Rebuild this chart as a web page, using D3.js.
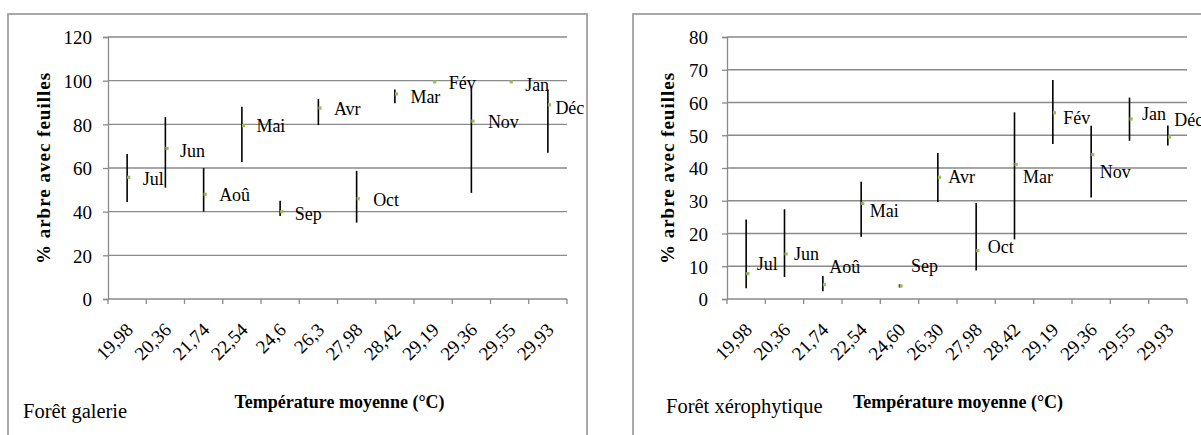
<!DOCTYPE html>
<html><head><meta charset="utf-8">
<script src="https://cdn.jsdelivr.net/npm/d3@7"></script>
<style>
html,body{margin:0;padding:0;background:#fff;}
svg{display:block;font-family:"Liberation Serif","Times New Roman",serif;}
</style></head>
<body>
<svg id="chart" width="1201" height="435"></svg>
<script>
// ---- data ----
const months = ["Jul","Jun","Aoû","Mai","Sep","Avr","Oct","Mar","Fév","Nov","Jan","Déc"];
const tempsGalerie = ["19,98","20,36","21,74","22,54","24,6","26,3","27,98","28,42","29,19","29,36","29,55","29,93"];
const tempsXero = ["19,98","20,36","21,74","22,54","24,60","26,30","27,98","28,42","29,19","29,36","29,55","29,93"];
const galerieValues = [55.8, 69, 48, 79.5, 40, 87.5, 46, 94, 99.5, 81.5, 99.5, 89];
const galerieLow    = [44.4, 51, 40, 62.7, 38, 79.7, 35, 89.7, 99.5, 48.6, 99.5, 67];
const galerieHigh   = [66.4, 83.3, 60, 88, 45, 91.6, 58.7, 96, 99.5, 97, 99.5, 96];
const xeroValues = [7.8, 13.8, 4.4, 29.2, 4.0, 37.2, 14.8, 41.1, 56.9, 44.1, 55, 49.5];
const xeroLow    = [3.3, 6.7, 2.4, 19, 3.5, 29.6, 8.7, 18.2, 47.3, 31, 48.3, 46.9];
const xeroHigh   = [24.3, 27.4, 7, 35.8, 4.5, 44.6, 29.3, 57, 66.9, 52.9, 61.5, 53];
const galerieTicks = [0,20,40,60,80,100,120];
const xeroTicks = [0,10,20,30,40,50,60,70,80];

// ---- label placement (style, not data) ----
const galerieLabelOffsets = [[14,2],[13,2],[14,0],[13,0],[13,2],[14,1],[15,1],[14,3],[14,1],[15,1],[14,3],[6,3]];
const xeroLabelOffsets = [[9,-10],[8,0],[5,-18],[7,7],[10,-20],[9,0],[10,-4],[7,12],[9,5],[7,17],[11,-5],[5,-17]];

const svg = d3.select("#chart");
const GRID = "#8a8a8a";

function panel(cfg){
  const g = svg.append("g");
  // frame
  g.append("rect").attr("x",cfg.frame[0]).attr("y",14).attr("width",cfg.frame[1]-cfg.frame[0]).attr("height",440)
    .attr("fill","none").attr("stroke","#a0a0a0").attr("stroke-width",1.8);
  const x = d3.scaleBand().domain(d3.range(months.length)).range([cfg.x0,cfg.x1]).padding(0);
  const y = d3.scaleLinear().domain([0,cfg.ticks[cfg.ticks.length-1]]).range([299,37]);
  // gridlines
  g.append("g").selectAll("line").data(cfg.ticks.filter(t=>t>0)).join("line")
    .attr("x1",cfg.x0).attr("x2",cfg.x1).attr("y1",d=>y(d)).attr("y2",d=>y(d))
    .attr("stroke",GRID).attr("stroke-width",1.3);
  // y axis
  const ya = g.append("g").attr("transform",`translate(${cfg.x0},0)`)
    .call(d3.axisLeft(y).tickValues(cfg.ticks).tickSize(5).tickPadding(cfg.tickPad).tickFormat(d3.format("d")));
  ya.select(".domain").attr("stroke",GRID).attr("stroke-width",1.3);
  ya.selectAll(".tick line").attr("stroke",GRID).attr("stroke-width",1.3);
  ya.selectAll(".tick text").attr("font-size",19).attr("font-family","Liberation Serif").attr("fill","#000").attr("dy","0.36em");
  // x axis
  const xa = g.append("g").attr("transform",`translate(0,299)`);
  xa.append("line").attr("x1",cfg.x0).attr("x2",cfg.x1).attr("y1",0).attr("y2",0).attr("stroke",GRID).attr("stroke-width",1.3);
  xa.selectAll("line.tk").data(d3.range(months.length+1)).join("line").attr("class","tk")
    .attr("x1",i=>cfg.x0+i*x.bandwidth()).attr("x2",i=>cfg.x0+i*x.bandwidth())
    .attr("y1",0).attr("y2",5).attr("stroke",GRID).attr("stroke-width",1.3);
  xa.selectAll("text").data(cfg.temps).join("text")
    .attr("transform",(d,i)=>`translate(${x(i)+x.bandwidth()/2+7},32) rotate(-45)`)
    .attr("text-anchor","end").attr("font-size",19).text(d=>d);
  // error bars
  g.append("g").selectAll("line").data(cfg.values).join("line")
    .attr("x1",(d,i)=>x(i)+x.bandwidth()/2).attr("x2",(d,i)=>x(i)+x.bandwidth()/2)
    .attr("y1",(d,i)=>y(cfg.high[i])).attr("y2",(d,i)=>y(cfg.low[i]))
    .attr("stroke","#000").attr("stroke-width",1.6);
  // points
  g.append("g").selectAll("rect").data(cfg.values).join("rect")
    .attr("x",(d,i)=>x(i)+x.bandwidth()/2).attr("y",d=>y(d)-1.5)
    .attr("width",3.2).attr("height",3.2).attr("fill","#9bbb59");
  // data labels
  g.append("g").selectAll("text").data(cfg.values).join("text")
    .attr("x",(d,i)=>x(i)+x.bandwidth()/2+1.5+cfg.offs[i][0])
    .attr("y",(d,i)=>y(d)+cfg.offs[i][1]+6.3)
    .attr("font-size",18).text((d,i)=>months[i]);
  // axis titles
  g.append("text").attr("transform",`translate(${cfg.ytx},168) rotate(-90)`)
    .attr("text-anchor","middle").attr("font-weight","bold").attr("font-size",19)
    .attr("letter-spacing","1px").text("% arbre avec feuilles");
  g.append("text").attr("x",cfg.xtx).attr("y",408).attr("text-anchor","middle")
    .attr("font-weight","bold").attr("font-size",18).text("Température moyenne (°C)");
  g.append("text").attr("x",cfg.nameX).attr("y",cfg.nameY).attr("font-size",20.5).text(cfg.name);
}

panel({frame:[8,587], x0:108, x1:567, ticks:galerieTicks, tickPad:11, temps:tempsGalerie,
  values:galerieValues, low:galerieLow, high:galerieHigh, offs:galerieLabelOffsets,
  ytx:50, xtx:339.5, name:"Forêt galerie", nameX:23, nameY:418});
panel({frame:[633,1215], x0:727, x1:1187, ticks:xeroTicks, tickPad:14, temps:tempsXero,
  values:xeroValues, low:xeroLow, high:xeroHigh, offs:xeroLabelOffsets,
  ytx:674, xtx:958, name:"Forêt xérophytique", nameX:666, nameY:413});
</script>
</body></html>
